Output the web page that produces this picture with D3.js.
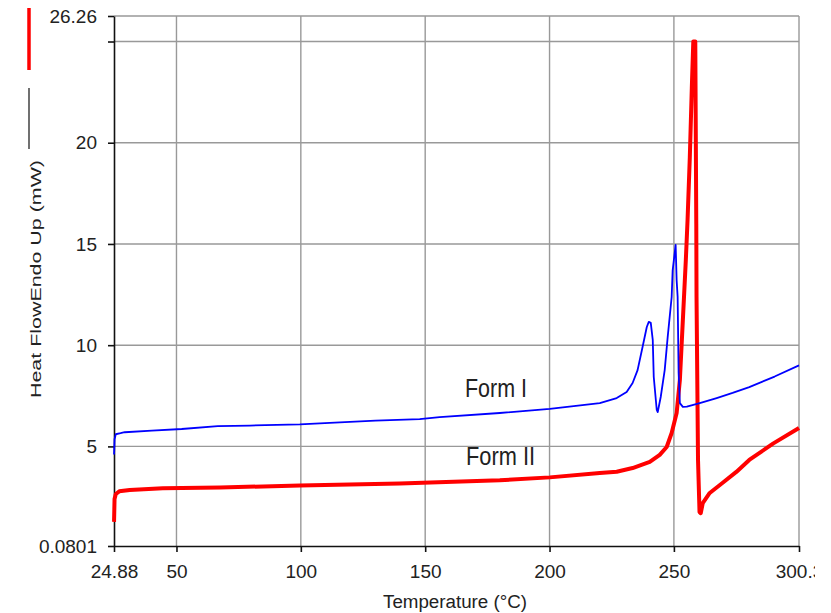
<!DOCTYPE html>
<html>
<head>
<meta charset="utf-8">
<script src="https://cdn.jsdelivr.net/npm/d3@7"></script>
<style>
  body { margin: 0; background: #fff; }
  svg { display: block; overflow: hidden; }
  text { font-family: "Liberation Sans", Arial, sans-serif; fill: #222; }
</style>
</head>
<body>
<div class="chart"></div>
<script>
// Form I (blauw) - temperatuur en heat flow
var formITemp = [24.9, 25.1, 25.6, 27.5, 29.2, 40.1, 52.1, 66.6, 79.5, 99.6, 115.7, 130, 147.8, 155.8, 180, 200.1, 220.2, 227.0, 231.0, 233.4, 235.4, 237.4, 239.1, 239.9, 240.7, 241.5, 241.9, 243.1, 243.5, 244.7, 246.3, 247.5, 249.1, 249.5, 250.7, 251.1, 251.5, 251.9, 252.4, 253.6, 255.2, 260.4, 267.2, 273.6, 280.3, 290.5, 300.3];
var formIValue = [4.6, 5.35, 5.6, 5.65, 5.7, 5.78, 5.86, 6.0, 6.03, 6.09, 6.19, 6.27, 6.35, 6.45, 6.65, 6.85, 7.14, 7.39, 7.69, 8.13, 8.77, 9.91, 10.9, 11.15, 11.1, 10.26, 8.43, 6.8, 6.7, 7.44, 8.77, 10.4, 12.38, 13.7, 14.95, 13.2, 12.4, 8.63, 7.14, 6.95, 6.96, 7.14, 7.39, 7.64, 7.93, 8.45, 9.0];

// Form II (rood)
var formIITemp = [24.9, 25.1, 25.6, 27.0, 31.2, 44.5, 67.5, 99.6, 139.8, 180.0, 200.1, 220.2, 227.0, 233.4, 240.3, 244.3, 247.1, 249.1, 251.1, 252.4, 253.6, 254.8, 255.5, 256.4, 257.2, 257.8, 258.6, 259.0, 259.1, 259.7, 260.3, 260.8, 261.6, 264.4, 269.5, 275.1, 280.3, 290.0, 300.3];
var formIIValue = [1.27, 2.4, 2.65, 2.78, 2.85, 2.93, 2.97, 3.07, 3.17, 3.33, 3.47, 3.69, 3.75, 3.93, 4.23, 4.58, 4.97, 5.66, 6.65, 8.28, 11.24, 14.21, 16.2, 19.29, 22.7, 25.0, 25.0, 16.0, 12.4, 4.33, 1.76, 1.7, 2.2, 2.7, 3.19, 3.74, 4.33, 5.15, 5.91];

// ticks
var xTickValues = [24.88, 50, 100, 150, 200, 250, 300.3];
var xTickLabels = ["24.88", "50", "100", "150", "200", "250", "300.3"];
var yTickValues = [0.0801, 5, 10, 15, 20, 25, 26.26];
var yTickLabels = ["0.0801", "5", "10", "15", "20", "", "26.26"];
var xGrid = [50, 100, 150, 200, 250];
var yGrid = [5, 10, 15, 20, 25];

var width = 815;
var height = 613;
var svg = d3.select(".chart").append("svg")
  .attr("width", width)
  .attr("height", height);

var x = d3.scaleLinear().domain([24.88, 300.3]).range([114, 799]);
var y = d3.scaleLinear().domain([0.0801, 26.26]).range([546, 16]);

// rasterlijnen
svg.selectAll("line.gx").data(xGrid).enter().append("line")
  .attr("x1", d => x(d)).attr("x2", d => x(d))
  .attr("y1", y(26.26)).attr("y2", y(0.0801))
  .attr("stroke", "#999").attr("stroke-width", 1.4);
svg.selectAll("line.gy").data(yGrid).enter().append("line")
  .attr("x1", x(24.88)).attr("x2", x(300.3))
  .attr("y1", d => y(d)).attr("y2", d => y(d))
  .attr("stroke", "#999").attr("stroke-width", 1.4);
// kader boven en rechts
svg.append("line")
  .attr("x1", x(24.88)).attr("x2", x(300.3))
  .attr("y1", y(26.26)).attr("y2", y(26.26))
  .attr("stroke", "#999").attr("stroke-width", 1.4);
svg.append("line")
  .attr("x1", x(300.3)).attr("x2", x(300.3))
  .attr("y1", y(26.26)).attr("y2", y(0.0801))
  .attr("stroke", "#999").attr("stroke-width", 1.4);

// assen
var xAxis = d3.axisBottom(x)
  .tickValues(xTickValues)
  .tickSize(6)
  .tickSizeOuter(0)
  .tickPadding(13)
  .tickFormat((d, i) => xTickLabels[i]);
var yAxis = d3.axisLeft(y)
  .tickValues(yTickValues)
  .tickSize(6)
  .tickSizeOuter(0)
  .tickPadding(12)
  .tickFormat((d, i) => yTickLabels[i]);

var gx = svg.append("g").attr("transform", "translate(0," + y(0.0801) + ")").call(xAxis);
var gy = svg.append("g").attr("transform", "translate(" + x(24.88) + ",0)").call(yAxis);
[gx, gy].forEach(function (g) {
  g.select(".domain").attr("stroke", "#111").attr("stroke-width", 1.6);
  g.selectAll(".tick line").attr("stroke", "#111").attr("stroke-width", 1.6);
  g.selectAll(".tick text")
    .style("font-family", "'Liberation Sans', Arial, sans-serif")
    .style("font-size", "19px")
    .attr("fill", "#222");
});
gy.selectAll(".tick text").attr("x", -17);

// curves
var line = d3.line()
  .x(d => x(d[0]))
  .y(d => y(d[1]));

var formI = formITemp.map((t, i) => [t, formIValue[i]]);
var formII = formIITemp.map((t, i) => [t, formIIValue[i]]);

svg.append("path")
  .datum(formII)
  .attr("d", line)
  .attr("fill", "none")
  .attr("stroke", "#ff0000")
  .attr("stroke-width", 4)
  .attr("stroke-linejoin", "round");

svg.append("path")
  .datum(formI)
  .attr("d", line)
  .attr("fill", "none")
  .attr("stroke", "#0000ff")
  .attr("stroke-width", 1.8)
  .attr("stroke-linejoin", "round");

// labels bij de curves
svg.append("text")
  .attr("x", 465).attr("y", 397)
  .attr("textLength", 62).attr("lengthAdjust", "spacingAndGlyphs")
  .style("font-size", "25px")
  .text("Form I");
svg.append("text")
  .attr("x", 466).attr("y", 465)
  .attr("textLength", 69).attr("lengthAdjust", "spacingAndGlyphs")
  .style("font-size", "25px")
  .text("Form II");

// as-titels
svg.append("text")
  .attr("x", 455).attr("y", 608)
  .attr("text-anchor", "middle")
  .attr("textLength", 144).attr("lengthAdjust", "spacingAndGlyphs")
  .style("font-size", "18px")
  .text("Temperature (°C)");

svg.append("text")
  .attr("transform", "translate(41,398) rotate(-90)")
  .attr("textLength", 238).attr("lengthAdjust", "spacingAndGlyphs")
  .style("font-size", "15px")
  .text("Heat FlowEndo Up (mW)");

// legendestreepjes naast de y-titel
svg.append("line")
  .attr("x1", 29).attr("x2", 29).attr("y1", 88).attr("y2", 149)
  .attr("stroke", "#111").attr("stroke-width", 1.2);
svg.append("line")
  .attr("x1", 29).attr("x2", 29).attr("y1", 8).attr("y2", 70)
  .attr("stroke", "#ff0000").attr("stroke-width", 3.5);
</script>
</body>
</html>
